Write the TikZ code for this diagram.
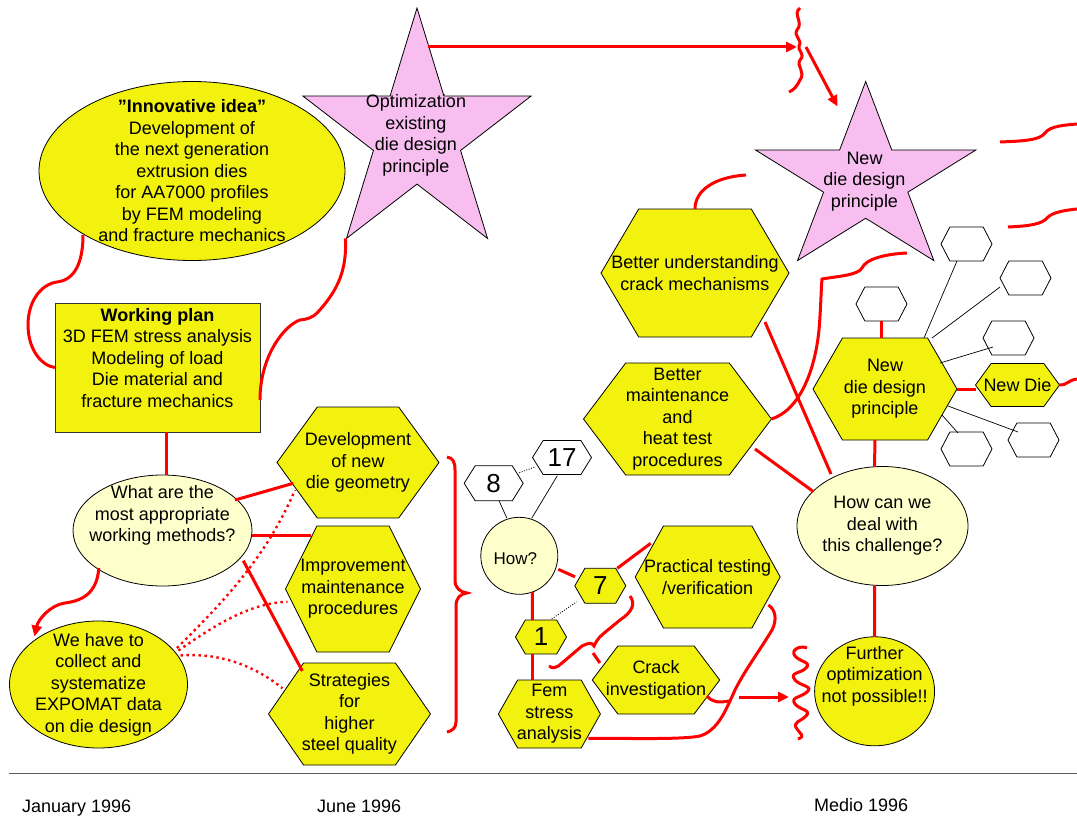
\documentclass[tikz,border=0pt]{standalone}
\usepackage{fontspec}
\setmainfont{Liberation Sans}
\usetikzlibrary{shapes.geometric,shapes.symbols,arrows.meta}
\definecolor{hexyellow}{RGB}{242,242,14}
\definecolor{paleyellow}{RGB}{255,255,204}
\definecolor{starpink}{RGB}{248,190,240}
\definecolor{rulegray}{RGB}{90,90,90}
\begin{document}
\begin{tikzpicture}[x=1pt,y=-1pt,
  every node/.style={inner sep=0pt, outer sep=0pt},
  every label/.style={font=\fontsize{18}{21.5}\selectfont, align=center, inner sep=0pt},
  words/.style={font=\fontsize{18}{21.5}\selectfont, align=center},
  txt/.style={label={center:{#1}}},
  hexa/.style={shape=signal, signal to=west and east, draw=black, line width=0.8pt, fill=hexyellow},
  blank/.style={hexa, fill=white, minimum width=51, minimum height=34, signal pointer angle=125},
  oval/.style={ellipse, draw=black, line width=0.8pt},
  starshape/.style={draw=black, line width=0.8pt, fill=starpink},
  link/.style={draw=red, line width=3pt},
  redarrow/.style={-{Triangle[length=11pt,width=10pt]}},
  reddots/.style={draw=red, line width=2.4pt, dash pattern=on 2.4pt off 3.6pt},
  thin/.style={draw=black, line width=0.7pt},
  thindots/.style={draw=black, line width=0.8pt, dash pattern=on 1pt off 1.5pt},
  digit/.style={label={[font=\fontsize{26}{30}\selectfont]center:#1}}
]
\useasboundingbox (0,0) rectangle (1077,816);

% ---------- stars ----------
\begin{scope}[shift={(417,135.4)}]
  \draw[starshape] (-90:120 and 127.4) -- (-54:45.8 and 48.7) -- (-18:120 and 127.4) -- (18:45.8 and 48.7)
    -- (54:120 and 127.4) -- (90:45.8 and 48.7) -- (126:120 and 127.4) -- (162:45.8 and 48.7)
    -- (198:120 and 127.4) -- (234:45.8 and 48.7) -- cycle;
\end{scope}
\node[words] (star1) at (416,135.4) {Optimization\\existing\\die design\\principle};

\begin{scope}[shift={(865.7,180.5)}]
  \draw[starshape] (-90:116 and 99) -- (-54:44.3 and 37.8) -- (-18:116 and 99) -- (18:44.3 and 37.8)
    -- (54:116 and 99) -- (90:44.3 and 37.8) -- (126:116 and 99) -- (162:44.3 and 37.8)
    -- (198:116 and 99) -- (234:44.3 and 37.8) -- cycle;
\end{scope}
\node[words] (star2) at (864.5,181.5) {New\\die design\\principle};

% ---------- left column ----------
\node[oval, fill=hexyellow, minimum width=306, minimum height=179,
  txt={\textbf{”Innovative idea”}\\Development of\\the next generation\\extrusion dies\\for AA7000 profiles\\by FEM modeling\\and fracture mechanics}] (idea) at (192,171) {};
\node[draw=black!80, line width=0.8pt, fill=hexyellow, minimum width=205, minimum height=129,
  label={[shift={(0,-9.5)}]center:{\textbf{Working plan}\\3D FEM stress analysis\\Modeling of load\\Die material and\\fracture mechanics}}] (plan) at (157.5,367.5) {};
\node[oval, fill=paleyellow, minimum width=179, minimum height=111,
  label={[shift={(0,-15)}]center:{What are the\\most appropriate\\working methods?}}] (what) at (162.5,530.5) {};
\node[oval, fill=hexyellow, minimum width=178, minimum height=127,
  txt={We have to\\collect and\\systematize\\EXPOMAT data\\on die design}] (collect) at (98.5,684.5) {};

\node[hexa, minimum width=162, minimum height=111, signal pointer angle=108,
  txt={Development\\of new\\die geometry}] (geom) at (358,462.5) {};
\node[hexa, minimum width=135, minimum height=126, signal pointer angle=127,
  txt={Improvement\\maintenance\\procedures}] (improve) at (353,589) {};
\node[hexa, minimum width=162, minimum height=102, signal pointer angle=111,
  txt={Strategies\\for\\higher\\steel quality}] (steel) at (349.5,714) {};

% ---------- centre ----------
\node[hexa, minimum width=188, minimum height=128, signal pointer angle=119,
  txt={Better understanding\\crack mechanisms}] (crackmech) at (695,273) {};
\node[hexa, minimum width=188, minimum height=112, signal pointer angle=106,
  txt={Better\\maintenance\\and\\heat test\\procedures}] (maint) at (677.5,419) {};

\node[circle, draw=black, line width=0.8pt, fill=paleyellow, minimum size=77,
  label={[font=\fontsize{17}{20}\selectfont, shift={(-4,3)}]center:How?}] (how) at (519.3,555.8) {};
\node[hexa, fill=white, minimum width=59, minimum height=35, signal pointer angle=116, digit=8] (n8) at (493.7,483.3) {};
\node[hexa, fill=white, minimum width=59, minimum height=34, signal pointer angle=116, digit=17] (n17) at (562,457.5) {};
\node[hexa, minimum width=51, minimum height=35, signal pointer angle=120, digit=7] (n7) at (600.3,585.8) {};
\node[hexa, minimum width=51, minimum height=34, signal pointer angle=120, digit=1] (n1) at (541,637) {};
\node[hexa, minimum width=102, minimum height=68, signal pointer angle=121,
  txt={Fem\\stress\\analysis}] (fem) at (549.4,714) {};
\node[hexa, minimum width=145, minimum height=102, signal pointer angle=122,
  txt={Practical testing\\/verification}] (practical) at (707.7,577) {};
\node[hexa, minimum width=127.5, minimum height=68, signal pointer angle=106,
  txt={Crack\\investigation}] (crack) at (656,680) {};

% ---------- right ----------
\node[hexa, minimum width=144, minimum height=102, signal pointer angle=120,
  txt={New\\die design\\principle}] (newprin) at (885,389) {};
\node[hexa, minimum width=84, minimum height=43, signal pointer angle=108,
  txt={New Die}] (newdie) at (1017.5,385) {};
\node[blank] (h1) at (966.5,244) {};
\node[blank] (h2) at (1025.5,278) {};
\node[blank] (h3) at (881.5,304) {};
\node[blank] (h4) at (1008.5,338) {};
\node[blank] (h5) at (1033.5,440) {};
\node[blank] (h6) at (966.5,449) {};
\node[oval, fill=paleyellow, minimum width=171, minimum height=119,
  txt={How can we\\deal with\\this challenge?}] (howcan) at (882.5,526) {};
\node[oval, fill=hexyellow, minimum width=120, minimum height=109,
  label={[shift={(0,-15)}]center:{Further\\optimization\\not possible!!}}] (further) at (874.6,691.3) {};

\coordinate (wigA) at (797,47);
\coordinate (wigB) at (789,697);

% ---------- connectors: left ----------
\draw[link] ([shift={(-109,64)}]idea.center) .. controls (83,262) and (75,280) .. (57,282)
  .. controls (42,284) and (28,300) .. (28,325) .. controls (28,350) and (42,366) .. (plan.west);
\draw[link] ([shift={(-70.6,103)}]star1.center) .. controls (347,270) and (338,290) .. (318,312)
  .. controls (312,318) and (308,319) .. (300,320) .. controls (285,325) and (260,355) .. ([shift={(0,32.5)}]plan.east);
\draw[link] ([shift={(9,0)}]plan.south) -- ([shift={(4,0)}]what.north);
\draw[link, redarrow] ([shift={(-63.7,37.5)}]what.center) .. controls (97,595) and (80,601) .. (65,603)
  .. controls (50,605) and (38,620) .. ([shift={(-64,-48)}]collect.center);
\draw[link] ([shift={(72.5,-30.5)}]what.center) -- ([shift={(-64.7,20.8)}]geom.center);
\draw[link] ([shift={(89.2,4.5)}]what.center) -- ([shift={(-42.3,-54)}]improve.center);
\draw[link] ([shift={(80.8,30.2)}]what.center) -- ([shift={(-47.2,-43)}]steel.center);
\draw[reddots] ([shift={(78.5,-36.5)}]collect.center) .. controls (220,605) and (265,560) .. ([shift={(-63,27.5)}]geom.center);
\draw[reddots] ([shift={(80,-34)}]collect.center) .. controls (215,625) and (250,603) .. ([shift={(-65.5,12.7)}]improve.center);
\draw[reddots] ([shift={(82,-29)}]collect.center) .. controls (225,652) and (260,670) .. ([shift={(-67,-25.7)}]steel.center);

% brace grouping the three strategies
\draw[link] (447,457) .. controls (453,458) and (455,462) .. (455,470) -- (455,580)
  .. controls (455,588) and (460,592) .. (467,593) .. controls (460,594) and (456,598) .. (456,606)
  -- (456,722) .. controls (456,728) and (452,731) .. (447,732);

% ---------- connectors: top ----------
\draw[link, redarrow] ([shift={(12,-88.4)}]star1.center) -- (wigA);
\draw[link] (800,8) .. controls (792,14) and (804,22) .. (797,30) .. controls (793,36) and (803,40) .. (799,46)
  .. controls (797,50) and (806,54) .. (800,60) .. controls (796,66) and (806,72) .. (800,80)
  .. controls (797,86) and (794,90) .. (789,92);
\draw[link, redarrow] ([shift={(9,0)}]wigA) -- ([shift={(-27,-75)}]star2.center);
\draw[link] (1000,142) .. controls (1025,141) and (1040,140) .. (1045,133) .. controls (1050,126) and (1065,125) .. (1077,124);
\draw[link] (1008,227) .. controls (1030,226) and (1042,224) .. (1047,218) .. controls (1052,212) and (1067,210) .. (1077,209);
\draw[link] (crackmech.north) .. controls (695,190) and (715,177) .. (746,175);
\draw[link] (maint.east) .. controls (800,410) and (815,370) .. (819,330) .. controls (821,305) and (821,290) .. (822,279)
  .. controls (840,276) and (858,275) .. (862,268) .. controls (866,259) and (885,254) .. (907,253);

% ---------- connectors: right ----------
\draw[link] (newprin.east) -- (newprin.east -| newdie.west);
\draw[link] (newdie.east) .. controls (1066,386) and (1068,380) .. (1077,379);
\draw[link] (h3.south) -- (h3.south |- newprin.north);
\draw[thin] ([shift={(39,-51)}]newprin.center) -- ([shift={(-9.5,17)}]h1.center);
\draw[thin] ([shift={(47,-51)}]newprin.center) -- ([shift={(-25.5,9)}]h2.center);
\draw[thin] ([shift={(55,-26)}]newprin.center) -- ([shift={(-15.5,9)}]h4.center);
\draw[thin] ([shift={(63,17)}]newprin.center) -- ([shift={(-15.5,-8)}]h5.center);
\draw[thin] ([shift={(57,26)}]newprin.center) -- ([shift={(-8.5,-16)}]h6.center);
\draw[link] ([shift={(-10,0)}]newprin.south) -- ([shift={(-8,0)}]howcan.north);
\draw[link] ([shift={(70,49)}]crackmech.center) -- ([shift={(-51.5,-52)}]howcan.center);
\draw[link] ([shift={(77.5,30)}]maint.center) -- ([shift={(-69,-34.3)}]howcan.center);
\draw[link] ([shift={(-8,0)}]howcan.south) -- (further.north);

% ---------- connectors: centre ----------
\draw[thindots] ([shift={(25.6,-10.6)}]n8.center) -- ([shift={(-26.3,9.2)}]n17.center);
\draw[thin] ([shift={(5.3,17.4)}]n8.center) -- ([shift={(-12.6,-38)}]how.center);
\draw[thin] ([shift={(-4.7,18.2)}]n17.center) -- ([shift={(12.4,-37.5)}]how.center);
\draw[link] ([shift={(39,13.5)}]how.center) -- ([shift={(-25.3,-9)}]n7.center);
\draw[link] ([shift={(17,-17.5)}]n7.center) -- ([shift={(-57,-33.7)}]practical.center);
\draw[link] ([shift={(13,36)}]how.center) -- ([shift={(-8.6,-17)}]n1.center);
\draw[link] ([shift={(-8.6,17)}]n1.center) -- ([shift={(-17,-34)}]fem.center);
\draw[thindots] ([shift={(10.7,-18)}]n1.center) -- ([shift={(-23.7,16)}]n7.center);
\draw[link] ([shift={(29.7,10.2)}]n7.center) .. controls (636,604) and (632,612) .. (620,620) -- (603,634)
  .. controls (598,638) and (596,642) .. (594,646) .. controls (592,642) and (588,643) .. (582,646)
  -- (562,663) .. controls (557,668) and (552,669) .. (549,666);
\draw[link] (593,653) -- (600,663);
\draw[link] ([shift={(60.7,28)}]practical.center) .. controls (776,610) and (777,620) .. (772,630)
  .. controls (760,650) and (745,670) .. (735,690) .. controls (725,712) and (718,730) .. (700,736)
  .. controls (680,740) and (620,738) .. ([shift={(39,24.3)}]fem.center);
\draw[link] ([shift={(51,16)}]crack.center) .. controls (712,702) and (718,703) .. (729,701);
\draw[link, redarrow] ([shift={(83,17)}]crack.center) -- (wigB);
\draw[link] (807,648) .. controls (800,645) and (790,650) .. (795,656) .. controls (800,662) and (812,662) .. (806,668)
  .. controls (800,674) and (789,672) .. (795,680) .. controls (800,686) and (814,686) .. (807,692)
  .. controls (800,698) and (790,697) .. (795,704) .. controls (800,710) and (812,710) .. (806,716)
  .. controls (800,722) and (792,722) .. (797,729) .. controls (800,734) and (806,736) .. (798,739);

% ---------- time line ----------
\draw[rulegray, line width=1.5pt] (9,773.5) -- (1077,773.5);
\node[words, anchor=base west] (jan) at (22,812) {January 1996};
\node[words, anchor=base west] (jun) at (317,812) {June 1996};
\node[words, anchor=base west] (medio) at (814,811) {Medio 1996};
\end{tikzpicture}
\end{document}
